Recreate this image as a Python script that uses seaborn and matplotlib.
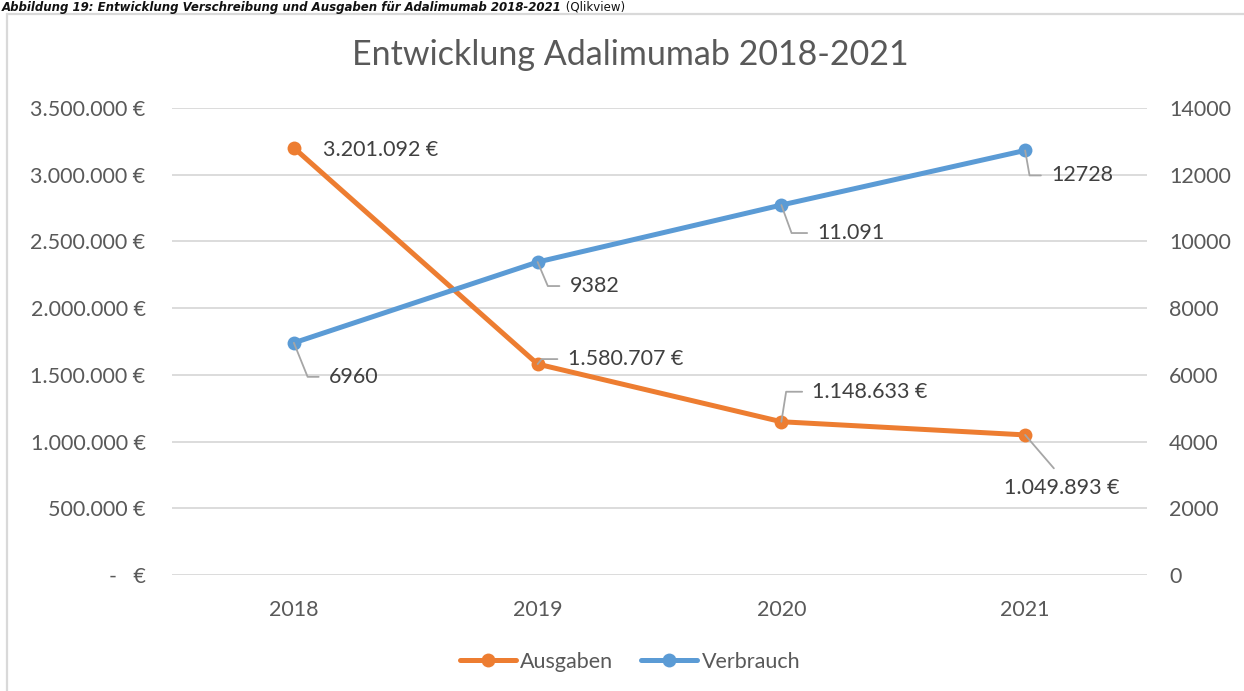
import matplotlib
matplotlib.use("Agg")
import matplotlib.pyplot as plt
import pandas as pd
import seaborn as sns
from matplotlib.patches import Rectangle

# Data
years = ["2018", "2019", "2020", "2021"]
ausgaben = [3201092, 1580707, 1148633, 1049893]      # EUR, left axis
verbrauch = [6960, 9382, 11091, 12728]               # units, right axis
ausgaben_labels = ["3.201.092 €", "1.580.707 €", "1.148.633 €", "1.049.893 €"]
verbrauch_labels = ["6960", "9382", "11.091", "12728"]
left_ticks = [0, 500000, 1000000, 1500000, 2000000, 2500000, 3000000, 3500000]
right_ticks = [0, 2000, 4000, 6000, 8000, 10000, 12000, 14000]

df = pd.DataFrame({"Jahr": years, "Ausgaben": ausgaben, "Verbrauch": verbrauch})

ORANGE = "#ED7D31"
BLUE = "#5B9BD5"
TXT = "#595959"
GRID = "#D9D9D9"
LEAD = "#A6A6A6"
FS = 15.5

sns.set_theme(style="white")
plt.rcParams["font.family"] = ["Lato", "DejaVu Sans"]

W, H = 1244, 691
fig = plt.figure(figsize=(W / 100, H / 100), dpi=100)
ax = fig.add_axes([172 / W, 1 - 575 / H, (1147 - 172) / W, (575 - 108) / H])
ax2 = ax.twinx()

line_kw = dict(marker="o", markersize=10, linewidth=3.6, markeredgewidth=0)
sns.lineplot(data=df, x="Jahr", y="Ausgaben", ax=ax, color=ORANGE, label="Ausgaben", **line_kw)
sns.lineplot(data=df, x="Jahr", y="Verbrauch", ax=ax2, color=BLUE, label="Verbrauch", **line_kw)

ax.set_xlim(-0.5, 3.5)
ax.set_ylim(0, 3500000)
ax2.set_ylim(0, 14000)
ax.set_yticks(left_ticks)
ax2.set_yticks(right_ticks)


def euro(v):
    if v == 0:
        return "-   €"
    return f"{int(v):,}".replace(",", ".") + " €"


ax.set_yticklabels([euro(v) for v in left_ticks])
ax2.set_yticklabels([str(v) for v in right_ticks])

for a in (ax, ax2):
    for s in a.spines.values():
        s.set_visible(False)
    a.set_xlabel("")
    a.set_ylabel("")
    a.tick_params(length=0, labelsize=FS, colors=TXT)
ax.tick_params(axis="y", pad=19)
ax2.tick_params(axis="y", pad=16)
ax.tick_params(axis="x", pad=18)
ax.yaxis.grid(True, color=GRID, linewidth=1.3)
ax.xaxis.grid(False)
ax2.grid(False)

# legend at the bottom
h1, l1 = ax.get_legend_handles_labels()
h2, l2 = ax2.get_legend_handles_labels()
ax.get_legend().remove()
ax2.get_legend().remove()
fig.legend(h1 + h2, l1 + l2, loc="center", bbox_to_anchor=(630 / W, 1 - 662 / H),
           ncol=2, frameon=False, fontsize=FS, labelcolor=TXT,
           handlelength=2.6, handletextpad=0.2, columnspacing=1.3)

# data labels: (dx, dy) offset in pixels, leader angle (None = no leader, "straight")
lab_kw = dict(textcoords="offset pixels", fontsize=FS, color="#404040", zorder=10)
a_offsets = [(29, -2, None), (30, 5, 51), (31, 30, 81), (37, -53, "straight")]
v_offsets = [(35, -34, -68), (32, -24, -67), (36, -28, -70), (26, -25, -80)]

for series_ax, vals, labels, offs in ((ax, ausgaben, ausgaben_labels, a_offsets),
                                      (ax2, verbrauch, verbrauch_labels, v_offsets)):
    for i, (v, t, (dx, dy, ang)) in enumerate(zip(vals, labels, offs)):
        if ang is None:
            series_ax.annotate(t, xy=(i, v), xytext=(dx, dy), ha="left", va="center", **lab_kw)
        elif ang == "straight":
            series_ax.annotate(t, xy=(i, v), xytext=(dx, dy), ha="center", va="center",
                               arrowprops=dict(arrowstyle="-", color=LEAD, lw=1.3,
                                               relpos=(0.5, 1.0), shrinkA=6, shrinkB=0),
                               **lab_kw)
        else:
            series_ax.annotate(t, xy=(i, v), xytext=(dx, dy), ha="left", va="center",
                               arrowprops=dict(arrowstyle="-", color=LEAD, lw=1.3,
                                               relpos=(0.0, 0.5), shrinkA=5, shrinkB=0,
                                               connectionstyle=f"angle,angleA=0,angleB={ang},rad=0"),
                               **lab_kw)

fig.text(630 / W, 1 - 55 / H, "Entwicklung Adalimumab 2018-2021", ha="center", va="center",
         fontsize=24.5, color=TXT)

# chart frame and the caption above it
fig.patches.append(Rectangle((7 / W, -0.1), 1.2, 1.1 - 14 / H, transform=fig.transFigure,
                             fill=False, edgecolor=GRID, linewidth=1.6))
cap = fig.text(2 / W, 1 - 1 / H,
               "Abbildung 19: Entwicklung Verschreibung und Ausgaben für Adalimumab 2018-2021",
               ha="left", va="top", fontsize=8.5, fontweight="bold", fontstyle="italic",
               family="DejaVu Sans", color="#111111")
ax.annotate(" (Qlikview)", xy=(1, 0), xycoords=cap, ha="left", va="bottom", fontsize=8.5,
            family="DejaVu Sans", color="#111111", annotation_clip=False)

fig.savefig("out.png", dpi=100)
